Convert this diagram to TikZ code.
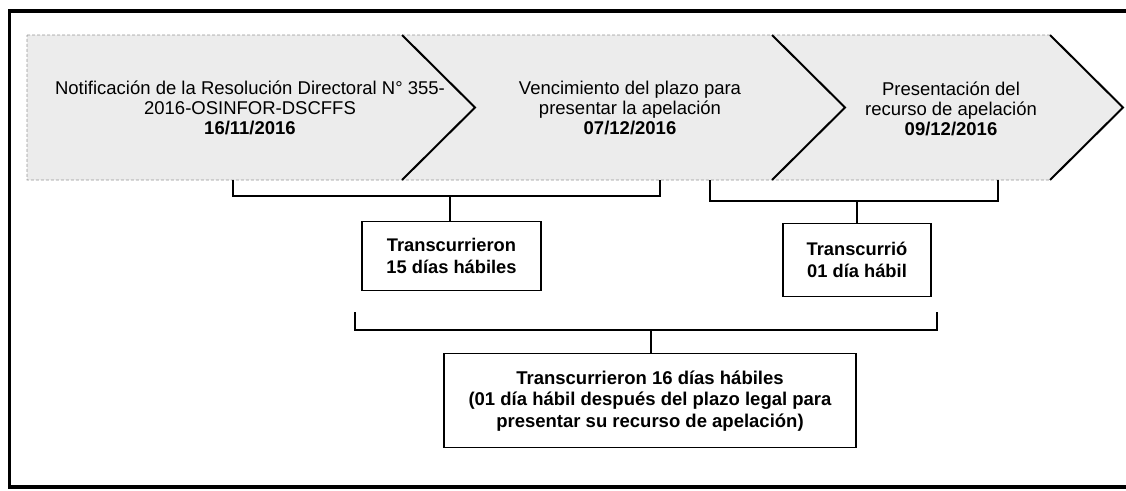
\documentclass[tikz,border=0pt]{standalone}
\usepackage{fontspec}
\setmainfont{Liberation Sans}
\usepackage{tikz}
\usetikzlibrary{positioning}
\definecolor{chevFill}{RGB}{236, 236, 236}
\definecolor{chevEdge}{RGB}{150, 150, 150}
\tikzset{
  chevtext/.style={align=center, inner sep=0pt, font=\fontsize{18.5pt}{20pt}\selectfont},
  daybox/.style={draw=black, line width=1.3pt, align=center, inner sep=0pt, font=\fontsize{18.3pt}{22pt}\selectfont\bfseries},
  bracket/.style={draw=black, line width=1.1pt},
  chevline/.style={draw=black, line width=2pt, line join=miter}
}

\begin{document}
\begin{tikzpicture}[x=1pt, y=-1pt]
\useasboundingbox (0,0) rectangle (1126,490);
% outer frame (right side runs off the page)
\draw[line width=3.5pt] (1140,11) -- (9.5,11) -- (9.5,487) -- (1140,487);

% chevron band
\filldraw[fill=chevFill, draw=chevEdge, line width=0.6pt, densely dashed] (27,35) -- (1050,35) -- (1123,107.5) -- (1050,180) -- (27,180) -- cycle;
\draw[chevline] (402,35) -- (475,107.5) -- (402,180);
\draw[chevline] (772,35) -- (845,107.5) -- (772,180);
\draw[chevline] (1050,35) -- (1123,107.5) -- (1050,180);

\node[chevtext] (notif) at (250,108) {Notificación de la Resolución Directoral N° 355-\\2016-OSINFOR-DSCFFS\\\textbf{16/11/2016}};
\node[chevtext] (venc) at (630,108) {Vencimiento del plazo para\\presentar la apelación\\\textbf{07/12/2016}};
\node[chevtext] (pres) at (951,109) {Presentación del\\recurso de apelación\\\textbf{09/12/2016}};

% day counts
\node[daybox, anchor=north, minimum width=179pt, minimum height=69pt] (days15) at (451.5,221) {Transcurrieron\\15 días hábiles};
\node[daybox, anchor=north, minimum width=148pt, minimum height=73pt] (days01) at (857,223) {Transcurrió\\01 día hábil};
\node[daybox, anchor=north, minimum width=412pt, minimum height=94pt, font=\fontsize{18.5pt}{21.5pt}\selectfont\bfseries] (days16) at (650,353) {Transcurrieron 16 días hábiles\\(01 día hábil después del plazo legal para\\presentar su recurso de apelación)};

% brackets
\coordinate (b1l) at (233,180);
\coordinate (b1r) at (660,180);
\coordinate (s1) at (450,196);
\coordinate (b2l) at (710,180);
\coordinate (b2r) at (998,180);
\coordinate (s2) at (857,201);
\coordinate (b3l) at (355,312);
\coordinate (b3r) at (937,312);
\coordinate (s3) at (651,330);

\draw[bracket] (b1l) |- (s1) -| (b1r);
\draw[bracket] (s1) -- (s1 |- days15.north);
\draw[bracket] (b2l) |- (s2) -| (b2r);
\draw[bracket] (s2) -- (s2 |- days01.north);
\draw[bracket] (b3l) |- (s3) -| (b3r);
\draw[bracket] (s3) -- (s3 |- days16.north);
\end{tikzpicture}
\end{document}
